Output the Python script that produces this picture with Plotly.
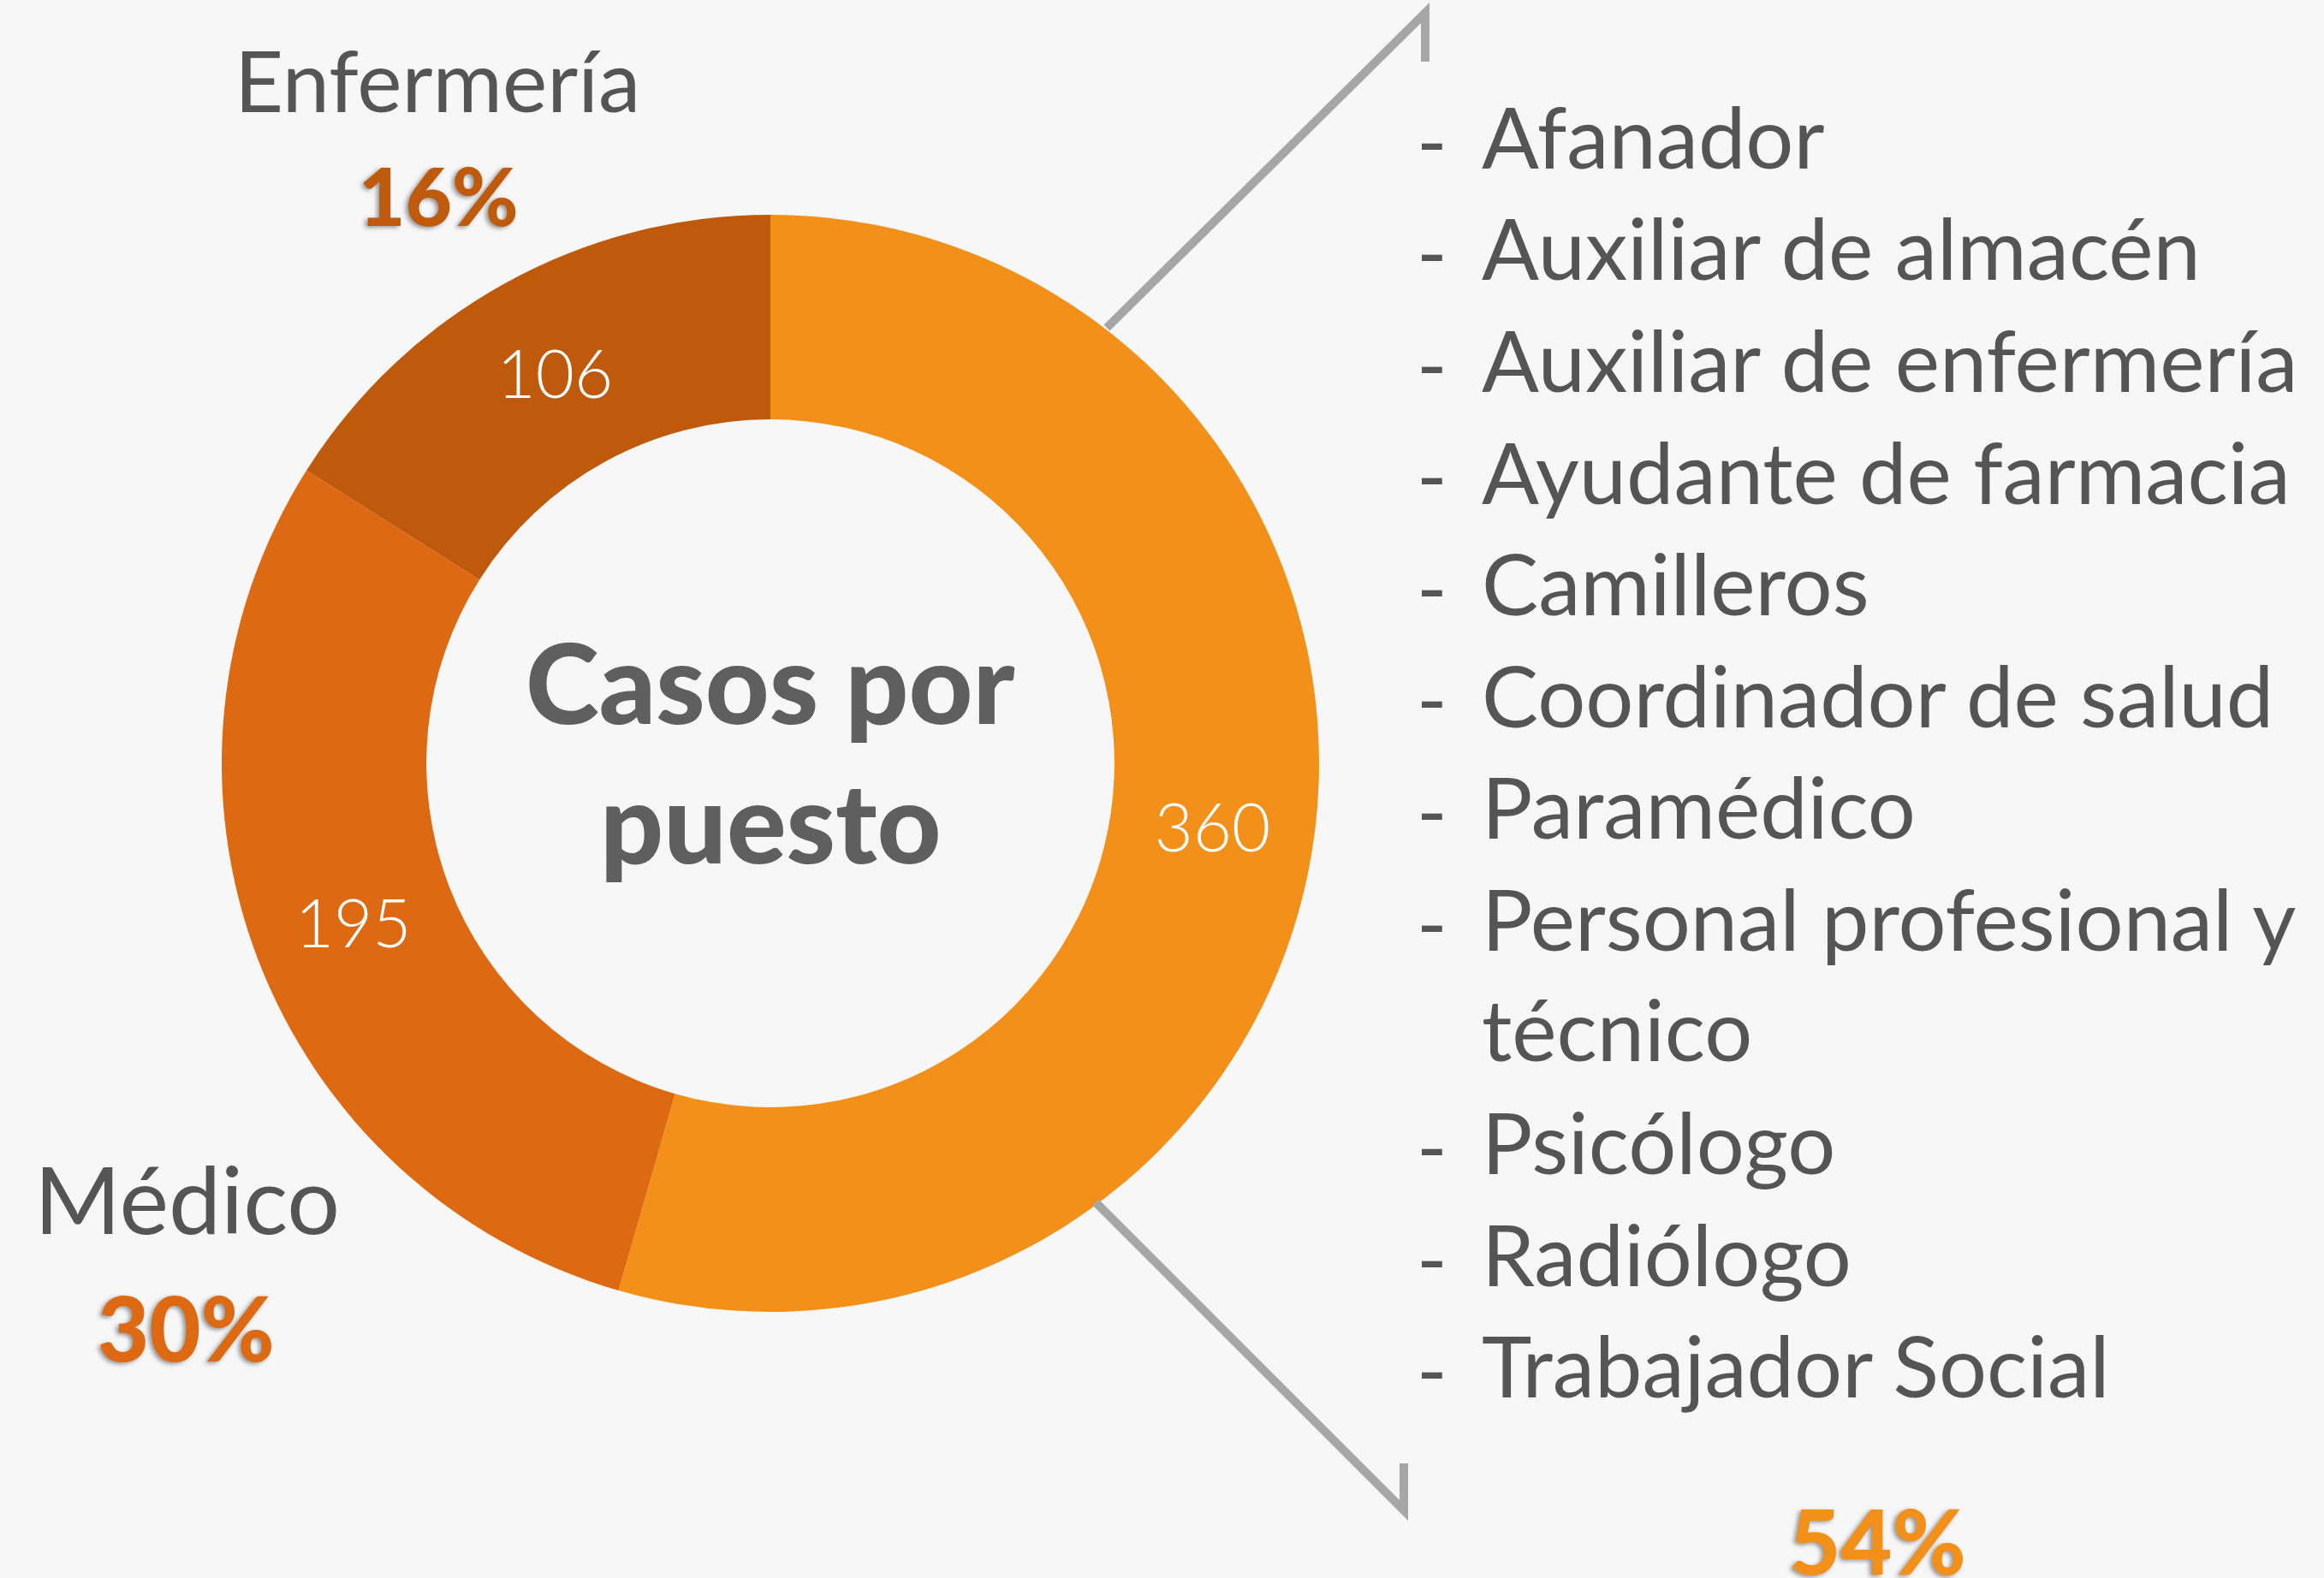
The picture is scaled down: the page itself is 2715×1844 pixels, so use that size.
import plotly.graph_objects as go

# ---------------- data ----------------
categories = ["Otros puestos", "Médico", "Enfermería"]
cases = [360, 195, 106]
slice_colors = ["#F39019", "#DD6A12", "#BF5A0C"]
percent_labels = ["54%", "30%", "16%"]
center_title = ["Casos por", "puesto"]
other_positions = [
    "Afanador",
    "Auxiliar de almacén",
    "Auxiliar de enfermería",
    "Ayudante de farmacia",
    "Camilleros",
    "Coordinador de salud",
    "Paramédico",
    "Personal profesional y<br>técnico",
    "Psicólogo",
    "Radiólogo",
    "Trabajador Social",
]

W, H = 2715, 1844
BG = "#F7F7F7"
TXT = "#555555"
FONT = "Lato"


def px(x):
    return x / W


def py(y):
    return 1 - y / H


# pie geometry (pixels)
cx, cy, R = 900, 892, 641

fig = go.Figure()
fig.add_trace(go.Pie(
    labels=categories,
    values=cases,
    sort=False,
    direction="clockwise",
    rotation=0,
    hole=0.627,
    marker=dict(colors=slice_colors, line=dict(width=0)),
    texttemplate="%{value}",
    textposition="inside",
    insidetextorientation="horizontal",
    textfont=dict(family=FONT, size=78, color="white", weight=300),
    domain=dict(x=[px(cx - R), px(cx + R)], y=[py(cy + R), py(cy - R)]),
    showlegend=False,
    hoverinfo="label+value+percent",
))

annotations = []

# center title
for i, line in enumerate(center_title):
    annotations.append(dict(
        x=px(cx), y=py([796, 959][i]), xref="paper", yref="paper",
        text=line, showarrow=False, xanchor="center", yanchor="middle",
        font=dict(family=FONT, size=130, color="#5F5F5F", weight=900),
    ))

# category labels + percentages
shadow = "-3px 2px 5px rgba(70,70,70,0.55)"
annotations.append(dict(x=px(511), y=py(92), xref="paper", yref="paper",
                        text=categories[2], showarrow=False, xanchor="center", yanchor="middle",
                        font=dict(family=FONT, size=99, color=TXT)))
annotations.append(dict(x=px(512), y=py(227), xref="paper", yref="paper",
                        text=percent_labels[2], showarrow=False, xanchor="center", yanchor="middle",
                        font=dict(family=FONT, size=94, color=slice_colors[2], weight=900, shadow=shadow)))
annotations.append(dict(x=px(218), y=py(1399), xref="paper", yref="paper",
                        text=categories[1], showarrow=False, xanchor="center", yanchor="middle",
                        font=dict(family=FONT, size=109, color=TXT)))
annotations.append(dict(x=px(217), y=py(1550), xref="paper", yref="paper",
                        text=percent_labels[1], showarrow=False, xanchor="center", yanchor="middle",
                        font=dict(family=FONT, size=104, color=slice_colors[1], weight=900, shadow=shadow)))
annotations.append(dict(x=px(2193), y=py(1799), xref="paper", yref="paper",
                        text=percent_labels[0], showarrow=False, xanchor="center", yanchor="middle",
                        font=dict(family=FONT, size=104, color=slice_colors[0], weight=900, shadow=shadow)))

# list of other positions
line_h = 130.6
first_mid = 162
row = 0
for item in other_positions:
    y_mid = first_mid + row * line_h
    nlines = item.count("<br>") + 1
    annotations.append(dict(x=px(1653), y=py(y_mid), xref="paper", yref="paper",
                            text="-", showarrow=False, xanchor="left", yanchor="middle",
                            font=dict(family=FONT, size=96, color=TXT)))
    annotations.append(dict(x=px(1729), y=py(y_mid - line_h / 2), xref="paper", yref="paper",
                            text=item, showarrow=False, xanchor="left", yanchor="top", align="left",
                            font=dict(family=FONT, size=99, color=TXT)))
    row += nlines

# bracket lines
line_style = dict(color="#A6A6A6", width=10)
shapes = [
    dict(type="path", xref="paper", yref="paper",
         path=f"M {px(1293)},{py(383)} L {px(1665)},{py(15)} L {px(1665)},{py(72)}",
         line=line_style),
    dict(type="path", xref="paper", yref="paper",
         path=f"M {px(1280)},{py(1405)} L {px(1640)},{py(1765)} L {px(1640)},{py(1710)}",
         line=line_style),
]

fig.update_layout(
    width=W, height=H,
    margin=dict(l=0, r=0, t=0, b=0),
    paper_bgcolor=BG, plot_bgcolor=BG,
    annotations=annotations,
    shapes=shapes,
)

fig.write_html("out.html", config={"displayModeBar": False},
               post_script="document.body.style.margin='0';document.body.style.overflow='hidden';")
